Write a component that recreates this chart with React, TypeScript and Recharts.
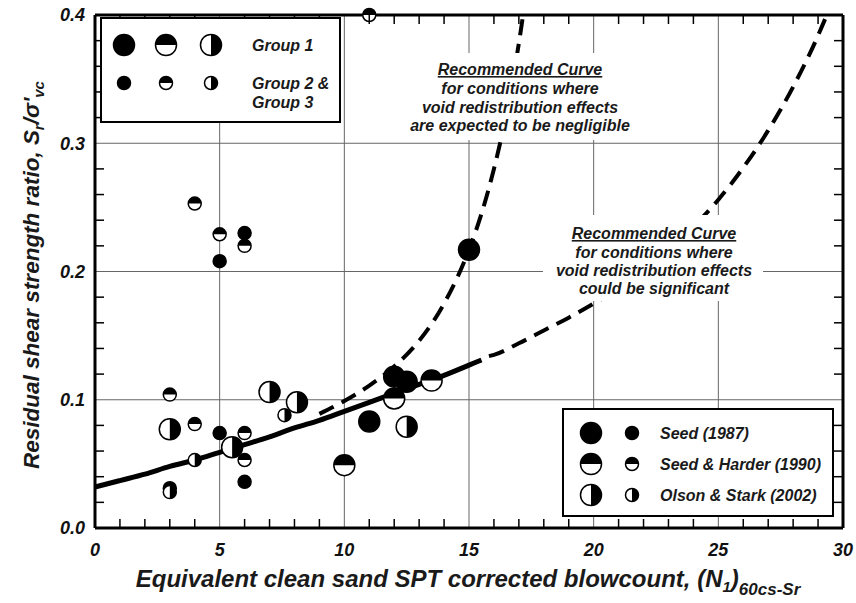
import React from 'react'
import { ComposedChart, Line, Scatter, XAxis, YAxis, CartesianGrid } from 'recharts'

const FONT = '"Liberation Sans", Arial, Helvetica, sans-serif'

// axis ticks
const majorXTicks = [0, 5, 10, 15, 20, 25, 30]
const majorYTicks = [0, 0.1, 0.2, 0.3, 0.4]
const minorXTicks = [1, 2, 3, 4, 6, 7, 8, 9, 11, 12, 13, 14, 16, 17, 18, 19, 21, 22, 23, 24, 26, 27, 28, 29]
const minorYTicks = [0.02, 0.04, 0.06, 0.08, 0.12, 0.14, 0.16, 0.18, 0.22, 0.24, 0.26, 0.28, 0.32, 0.34, 0.36, 0.38]

// solid best-fit curve
const bestFitN = [0, 1, 2, 3, 4, 5, 6, 7, 8, 9, 10, 11, 12, 13, 14, 15, 15.5]
const bestFitRatio = [0.032, 0.037, 0.042, 0.048, 0.053, 0.059, 0.065, 0.071, 0.078, 0.084, 0.091, 0.098, 0.105, 0.112, 0.119, 0.127, 0.131]

// dashed: void redistribution could be significant
const significantN = [15.8, 16, 17, 18, 19, 20, 21, 22, 23, 24, 25, 26, 27, 28, 29, 29.35]
const significantRatio = [0.134, 0.135, 0.144, 0.154, 0.164, 0.175, 0.187, 0.201, 0.217, 0.235, 0.256, 0.281, 0.31, 0.344, 0.384, 0.4]

// dashed: void redistribution negligible
const negligibleN = [9, 10, 11, 12, 13, 14, 15, 15.5, 16, 16.5, 17, 17.17]
const negligibleRatio = [0.089, 0.099, 0.111, 0.126, 0.146, 0.175, 0.217, 0.245, 0.28, 0.323, 0.378, 0.4]

// case histories [N1_60cs-Sr, Sr/sigma'vc]
const seedGroup1 = [[11, 0.083], [12, 0.118], [12.5, 0.114], [15, 0.217]]
const seedGroup23 = [[5, 0.208], [6, 0.23], [5, 0.074], [6, 0.036]]
const harderGroup1 = [[10, 0.049], [12, 0.101], [13.5, 0.115]]
const harderGroup23 = [[11, 0.4], [4, 0.253], [5, 0.229], [6, 0.22], [3, 0.104], [4, 0.081], [6, 0.074], [6, 0.053], [3, 0.031]]
const olsonGroup1 = [[3, 0.077], [5.5, 0.063], [7, 0.106], [8.1, 0.098], [12.5, 0.079]]
const olsonGroup23 = [[4, 0.053], [7.6, 0.088], [3, 0.028]]

const toRows = (xs: number[], ys: number[]) => xs.map((n, i) => ({ n, ratio: ys[i] }))
const pairRows = (pairs: number[][]) => pairs.map(([n, ratio]) => ({ n, ratio }))

const BIG = 10.5
const SMALL = 6.5

// plot box (matches chart margins / axis sizes below)
const PLOT = { left: 95, right: 843, top: 15, bottom: 528 }
const TICK = 9
const px = (n: number) => PLOT.left + (n / 30) * (PLOT.right - PLOT.left)
const py = (r: number) => PLOT.bottom - (r / 0.4) * (PLOT.bottom - PLOT.top)

function Marker({ cx, cy, r, kind }: { cx?: number; cy?: number; r: number; kind: 'full' | 'top' | 'right' }) {
  if (cx == null || cy == null) return null
  let half: string | null = null
  if (kind === 'top') half = `M${cx - r},${cy} A${r},${r} 0 0 1 ${cx + r},${cy} Z`
  if (kind === 'right') half = `M${cx},${cy - r} A${r},${r} 0 0 1 ${cx},${cy + r} Z`
  return (
    <g>
      <circle cx={cx} cy={cy} r={r} fill={kind === 'full' ? '#000' : '#fff'} stroke="#000" strokeWidth={1.5} />
      {half && <path d={half} fill="#000" />}
    </g>
  )
}

const shape = (kind: 'full' | 'top' | 'right', r: number) => (props: any) => (
  <Marker cx={props.cx} cy={props.cy} r={r} kind={kind} />
)

const tickStyle = { fill: '#111', fontSize: 18, fontFamily: FONT, fontStyle: 'italic', fontWeight: 700 }
const textStyle = { fontFamily: FONT, fontStyle: 'italic' as const, fontWeight: 700, fill: '#1a1a1a' }
const frameLine = { stroke: '#000', strokeWidth: 3 }

export default function App() {
  return (
    <div style={{ position: 'absolute', left: 0, top: 0, width: 856, height: 603, background: '#fff' }}>
      <ComposedChart width={856} height={603} margin={{ top: 15, right: 13, bottom: 0, left: 0 }}>
        {/* top and right frame */}
        <XAxis xAxisId="top" orientation="top" mirror height={1} type="number" domain={[0, 30]} allowDataOverflow
          tick={false} tickLine={false} axisLine={frameLine} />
        <YAxis yAxisId="right" orientation="right" mirror width={1} type="number" domain={[0, 0.4]} allowDataOverflow
          tick={false} tickLine={false} axisLine={frameLine} />

        <XAxis type="number" dataKey="n" domain={[0, 30]} ticks={majorXTicks} height={75}
          tick={tickStyle} tickLine={false} tickMargin={9} axisLine={frameLine} />
        <YAxis type="number" dataKey="ratio" domain={[0, 0.4]} ticks={majorYTicks} width={95}
          tick={tickStyle} tickLine={false} tickMargin={4} tickFormatter={(v: number) => v.toFixed(1)}
          axisLine={frameLine} />
        <CartesianGrid stroke="#666" strokeWidth={1} />

        <Line data={toRows(bestFitN, bestFitRatio)} dataKey="ratio" type="monotone" stroke="#000" strokeWidth={5}
          dot={false} isAnimationActive={false} />
        <Line data={toRows(significantN, significantRatio)} dataKey="ratio" type="monotone" stroke="#000" strokeWidth={4}
          strokeDasharray="16 9" dot={false} isAnimationActive={false} />
        <Line data={toRows(negligibleN, negligibleRatio)} dataKey="ratio" type="monotone" stroke="#000" strokeWidth={4}
          strokeDasharray="16 9" dot={false} isAnimationActive={false} />

        <Scatter data={pairRows(seedGroup1)} dataKey="ratio" shape={shape('full', BIG)} isAnimationActive={false} />
        <Scatter data={pairRows(seedGroup23)} dataKey="ratio" shape={shape('full', SMALL)} isAnimationActive={false} />
        <Scatter data={pairRows(harderGroup1)} dataKey="ratio" shape={shape('top', BIG)} isAnimationActive={false} />
        <Scatter data={pairRows(harderGroup23)} dataKey="ratio" shape={shape('top', SMALL)} isAnimationActive={false} />
        <Scatter data={pairRows(olsonGroup1)} dataKey="ratio" shape={shape('right', BIG)} isAnimationActive={false} />
        <Scatter data={pairRows(olsonGroup23)} dataKey="ratio" shape={shape('right', SMALL)} isAnimationActive={false} />
      </ComposedChart>

      <svg width={856} height={603} style={{ position: 'absolute', left: 0, top: 0, pointerEvents: 'none' }}>
        {/* inward minor ticks on all four sides */}
        <g stroke="#000" strokeWidth={1.5}>
          {minorXTicks.map((t) => (
            <line key={`b${t}`} x1={px(t)} x2={px(t)} y1={PLOT.bottom} y2={PLOT.bottom - TICK} />
          ))}
          {minorXTicks.map((t) => (
            <line key={`t${t}`} x1={px(t)} x2={px(t)} y1={PLOT.top} y2={PLOT.top + TICK} />
          ))}
          {minorYTicks.map((t) => (
            <line key={`l${t}`} x1={PLOT.left} x2={PLOT.left + TICK} y1={py(t)} y2={py(t)} />
          ))}
          {minorYTicks.map((t) => (
            <line key={`r${t}`} x1={PLOT.right - TICK} x2={PLOT.right} y1={py(t)} y2={py(t)} />
          ))}
        </g>

        {/* annotation for negligible curve */}
        <rect x={405} y={53} width={235} height={87} fill="#fff" />
        <g {...textStyle} fontSize={16} textAnchor="middle">
          <text x={520} y={75} textDecoration="underline">Recommended Curve</text>
          <text x={520} y={94}>for conditions where</text>
          <text x={520} y={113}>void redistribution effects</text>
          <text x={520} y={131}>are expected to be negligible</text>
        </g>

        {/* annotation for significant curve */}
        <rect x={543} y={215} width={220} height={86} fill="#fff" />
        <g {...textStyle} fontSize={16} textAnchor="middle">
          <text x={654} y={239} textDecoration="underline">Recommended Curve</text>
          <text x={654} y={258}>for conditions where</text>
          <text x={654} y={276}>void redistribution effects</text>
          <text x={654} y={294}>could be significant</text>
        </g>

        {/* group legend */}
        <rect x={101} y={18} width={239} height={104} fill="#fff" stroke="#000" strokeWidth={2} />
        <Marker cx={124} cy={45} r={BIG} kind="full" />
        <Marker cx={166} cy={45} r={BIG} kind="top" />
        <Marker cx={211} cy={45} r={BIG} kind="right" />
        <Marker cx={124} cy={83} r={SMALL} kind="full" />
        <Marker cx={166} cy={83} r={SMALL} kind="top" />
        <Marker cx={211} cy={83} r={SMALL} kind="right" />
        <g {...textStyle} fontSize={16}>
          <text x={252} y={51}>Group 1</text>
          <text x={252} y={89}>Group 2 &amp;</text>
          <text x={252} y={108}>Group 3</text>
        </g>

        {/* source legend */}
        <rect x={563} y={409} width={270} height={107} fill="#fff" stroke="#000" strokeWidth={2} />
        <Marker cx={591} cy={433} r={BIG} kind="full" />
        <Marker cx={632} cy={433} r={SMALL} kind="full" />
        <Marker cx={591} cy={464} r={BIG} kind="top" />
        <Marker cx={632} cy={464} r={SMALL} kind="top" />
        <Marker cx={591} cy={495} r={BIG} kind="right" />
        <Marker cx={632} cy={495} r={SMALL} kind="right" />
        <g {...textStyle} fontSize={16}>
          <text x={660} y={439}>Seed (1987)</text>
          <text x={660} y={470}>Seed &amp; Harder (1990)</text>
          <text x={660} y={501}>Olson &amp; Stark (2002)</text>
        </g>

        {/* axis titles */}
        <text {...textStyle} fontSize={24} x={468} y={587} textAnchor="middle">
          Equivalent clean sand SPT corrected blowcount, (N
          <tspan fontSize={15} dy={5}>1</tspan>
          <tspan dy={-5}>)</tspan>
          <tspan fontSize={17} dy={8}>60cs-Sr</tspan>
        </text>
        <text {...textStyle} fontSize={22.5} transform="translate(39 275) rotate(-90)" textAnchor="middle">
          Residual shear strength ratio, S
          <tspan fontSize={15} dy={5}>r</tspan>
          <tspan dy={-5}>/σ'</tspan>
          <tspan fontSize={15} dy={5}>vc</tspan>
        </text>
      </svg>
    </div>
  )
}
